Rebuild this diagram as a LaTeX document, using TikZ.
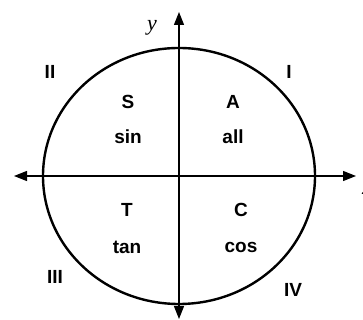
\documentclass[tikz,border=0pt]{standalone}
\usepackage{fontspec}
\setmainfont{Liberation Sans}
\newfontfamily\serifit{Liberation Serif}
\usetikzlibrary{arrows.meta}
\begin{document}
\begin{tikzpicture}[x=1pt,y=1pt,
  lbl/.style={font=\fontsize{19}{19}\selectfont\bfseries, inner sep=0pt},
  axlbl/.style={font=\fontsize{22}{22}\selectfont\serifit\itshape, inner sep=0pt},
  axis/.style={line width=1.2pt, -{Triangle[length=13pt,width=10pt]}}]
\useasboundingbox (0,0) rectangle (363,320);
\coordinate (O) at (179,144);
\coordinate (L) at (14,144);
\coordinate (R) at (356,144);
\coordinate (T) at (179,308);
\coordinate (B) at (179,1);
\draw[line width=2.4pt] (O) ellipse [x radius=136, y radius=128];
\draw[axis] (O) -- (L);
\draw[axis] (O) -- (R);
\draw[axis] (O) -- (T);
\draw[axis] (O) -- (B);
\node[axlbl] (ylab) at (152,292) {y};
\node[axlbl] (xlab) at (367,131) {x};
\node[lbl] (q2) at (50,248) {II};
\node[lbl] (q1) at (289,248) {I};
\node[lbl] (q3) at (55,43) {III};
\node[lbl] (q4) at (293,30) {IV};
\node[lbl] (S) at (128,218) {S};
\node[lbl] (sin) at (128,183) {sin};
\node[lbl] (A) at (233,218) {A};
\node[lbl] (all) at (233,183) {all};
\node[lbl] (Tt) at (127,110) {T};
\node[lbl] (tan) at (127,73) {tan};
\node[lbl] (C) at (241,110) {C};
\node[lbl] (cos) at (241,73) {cos};
\end{tikzpicture}
\end{document}
